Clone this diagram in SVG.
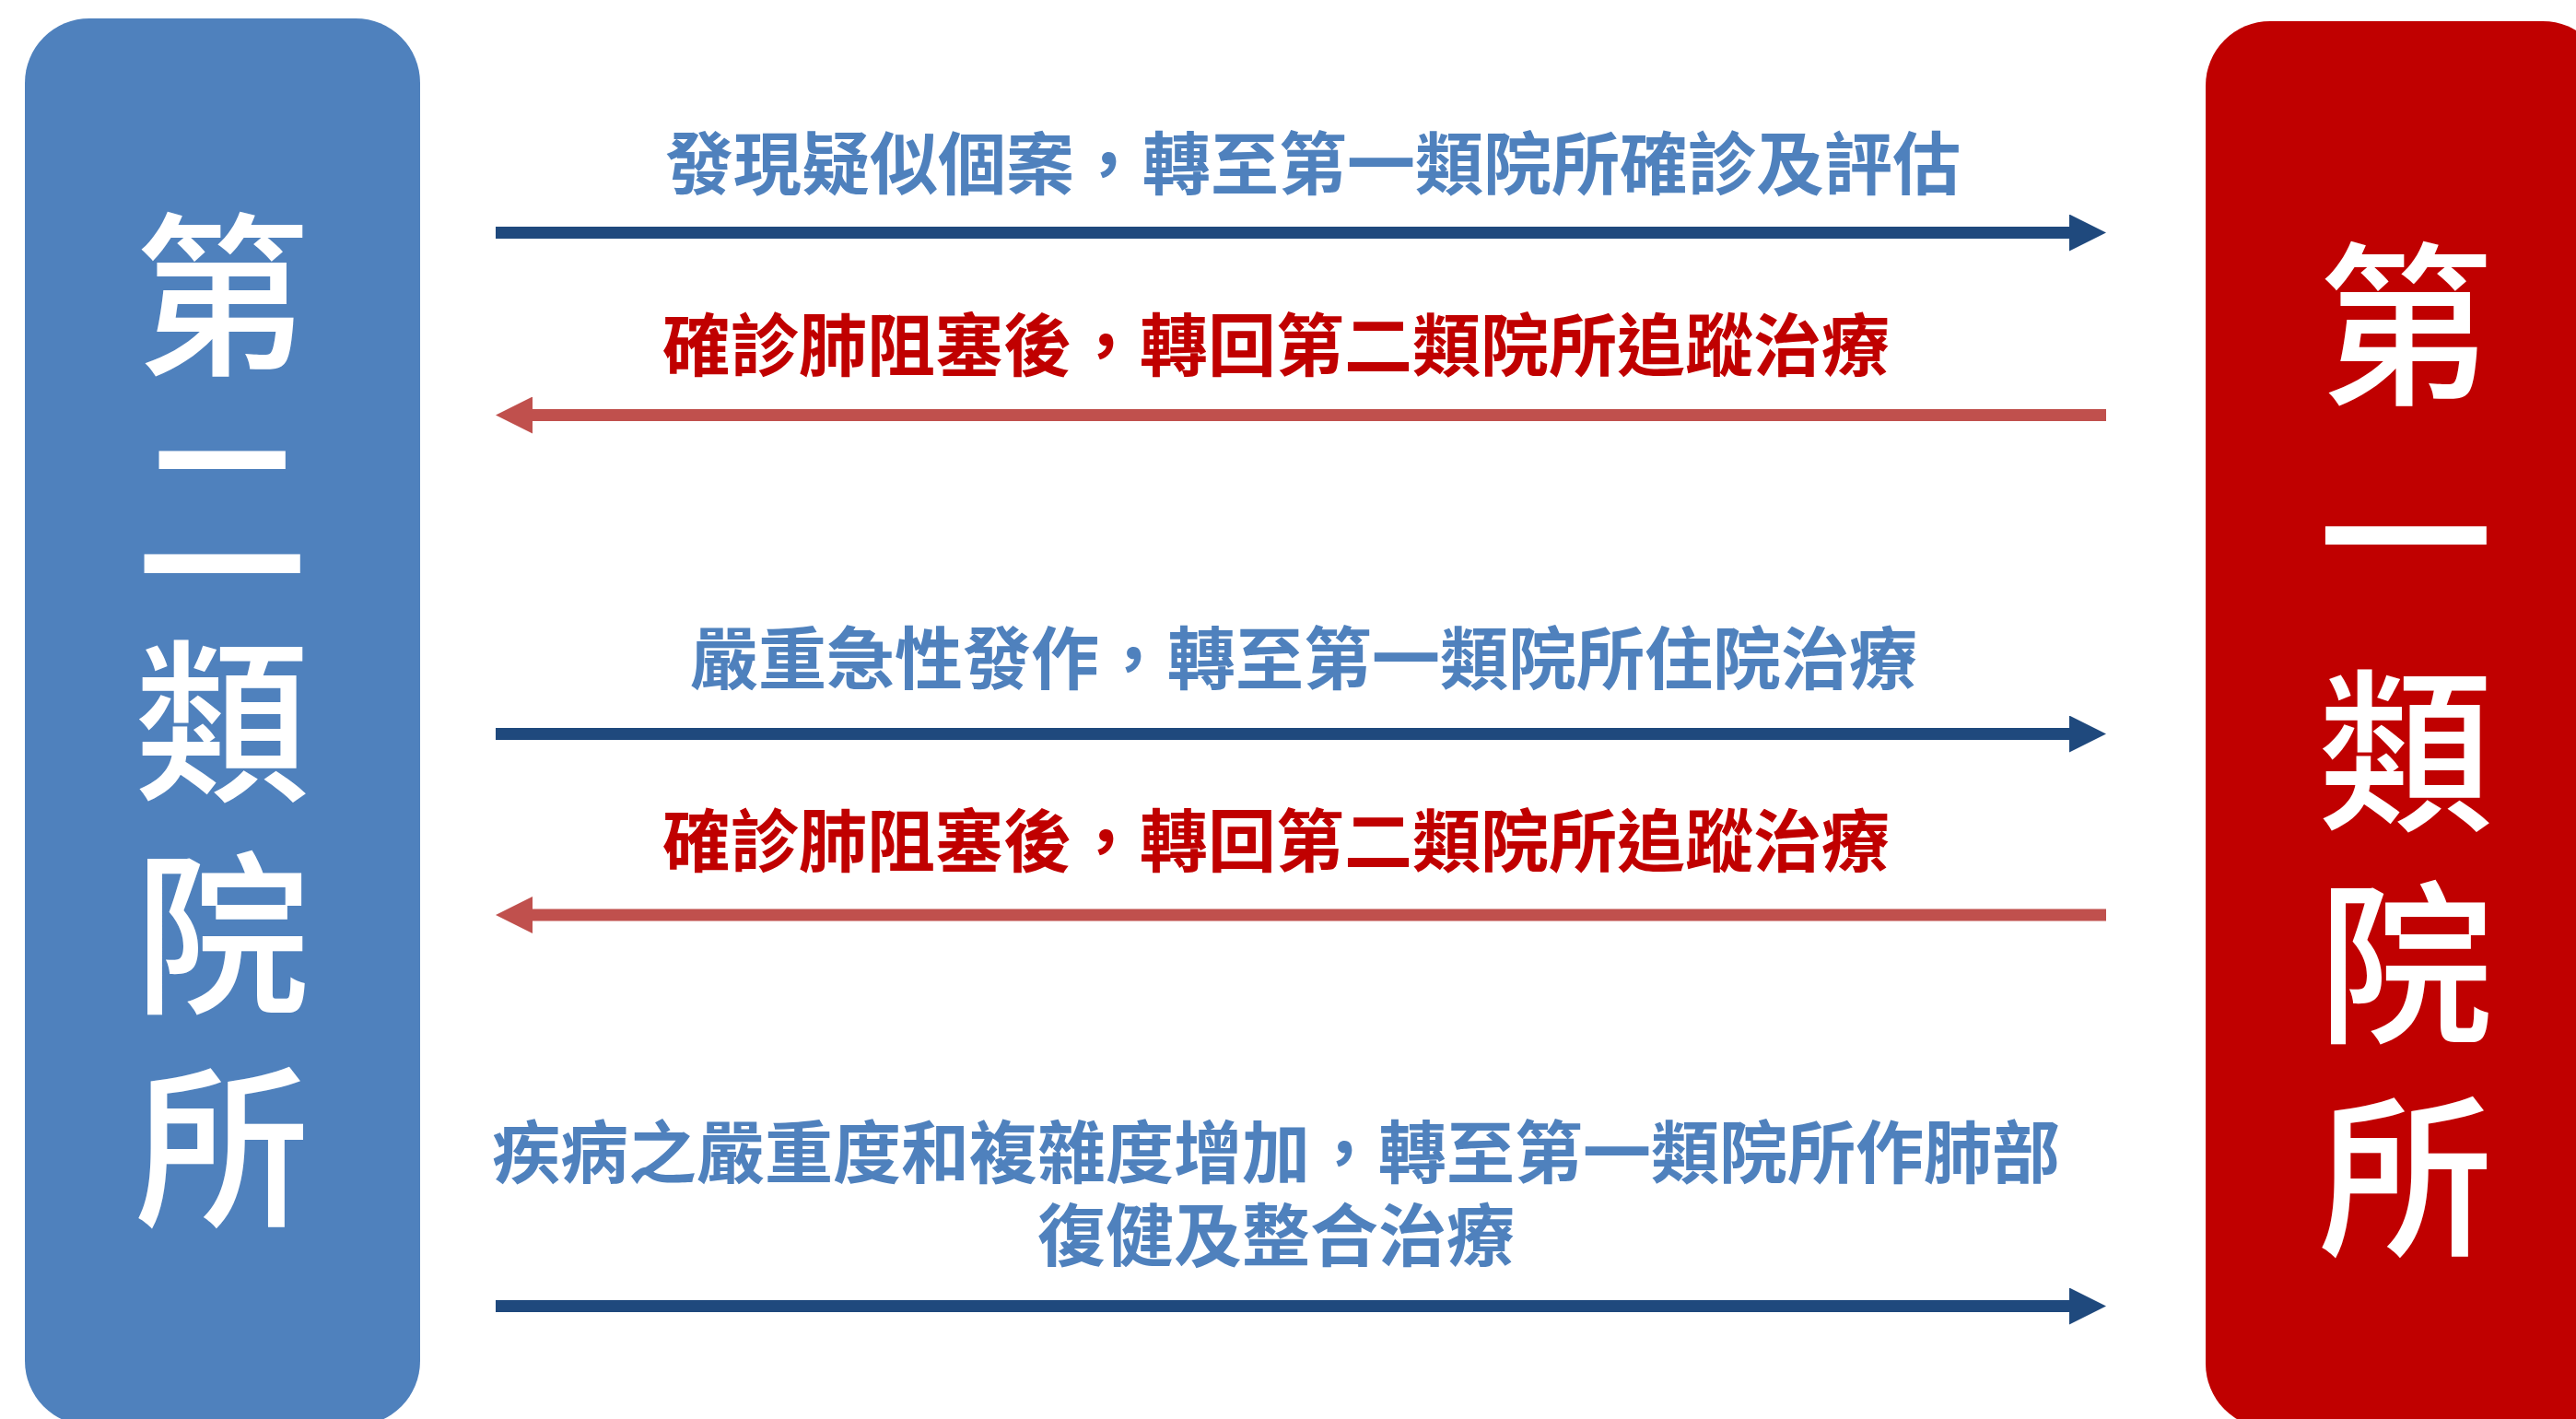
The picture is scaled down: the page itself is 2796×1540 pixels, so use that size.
<svg xmlns="http://www.w3.org/2000/svg" width="2796" height="1540" viewBox="0 0 2796 1540">
<style>
.box-text{font-family:"Noto Sans CJK TC","Noto Sans CJK SC",sans-serif;font-size:190px;font-weight:500;fill:#FFFFFF;writing-mode:vertical-rl;letter-spacing:41px}
.lbl{font-family:"Noto Sans CJK TC","Noto Sans CJK SC",sans-serif;font-size:74px;font-weight:bold}
.blue-t{fill:#4F81BD}
.red-t{fill:#C00000}
.fwd{stroke:#1F497D;stroke-width:13;fill:none;marker-end:url(#headBlue)}
.back{stroke:#C0504D;stroke-width:13;fill:none;marker-end:url(#headRed)}
</style>
<defs>
<marker id="headBlue" markerUnits="userSpaceOnUse" viewBox="0 0 40 40" markerWidth="40" markerHeight="40" refX="0" refY="20" orient="auto">
<path d="M0,0 L40,20 L0,40 Z" fill="#1F497D"/>
</marker>
<marker id="headRed" markerUnits="userSpaceOnUse" viewBox="0 0 40 40" markerWidth="40" markerHeight="40" refX="0" refY="20" orient="auto">
<path d="M0,0 L40,20 L0,40 Z" fill="#C0504D"/>
</marker>
</defs>
<rect width="2796" height="1540" fill="#FFFFFF"/>
<g id="node-class2">
<rect x="27" y="20" width="429" height="1527" rx="70" ry="70" fill="#4F81BD"/>
<text class="box-text" x="241" y="225">第二類院所</text>
</g>
<g id="node-class1">
<rect x="2394" y="23" width="436" height="1527" rx="70" ry="70" fill="#C00000"/>
<text class="box-text" x="2611" y="257">第一類院所</text>
</g>
<g id="connectors">
<path class="fwd" d="M538,252.5 H2246"/>
<path class="back" d="M2286,450.5 H578"/>
<path class="fwd" d="M538,796.5 H2246"/>
<path class="back" d="M2286,993 H578"/>
<path class="fwd" d="M538,1417.5 H2246"/>
</g>
<g id="labels">
<text class="lbl blue-t" x="722" y="205">發現疑似個案，轉至第一類院所確診及評估</text>
<text class="lbl red-t" x="719" y="402">確診肺阻塞後，轉回第二類院所追蹤治療</text>
<text class="lbl blue-t" x="749" y="742">嚴重急性發作，轉至第一類院所住院治療</text>
<text class="lbl red-t" x="719" y="940">確診肺阻塞後，轉回第二類院所追蹤治療</text>
<text class="lbl blue-t" text-anchor="middle"><tspan x="1385" y="1278">疾病之嚴重度和複雜度增加，轉至第一類院所作肺部</tspan><tspan x="1385" y="1368">復健及整合治療</tspan></text>
</g>
</svg>
